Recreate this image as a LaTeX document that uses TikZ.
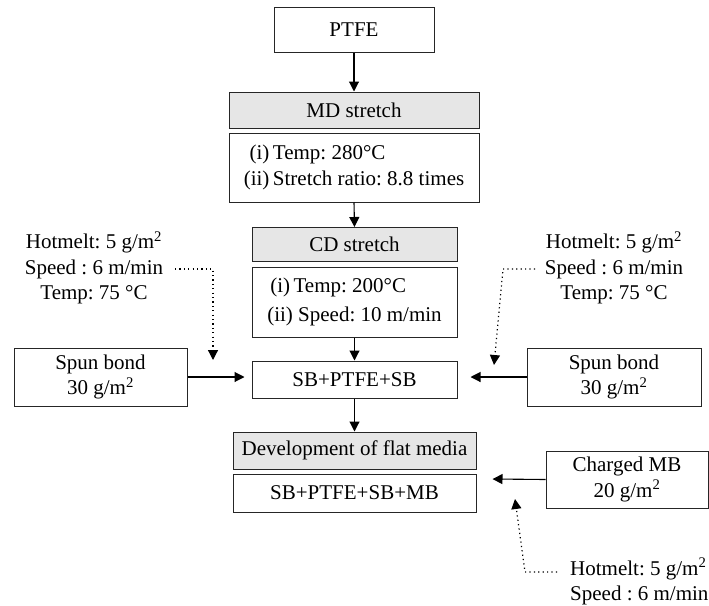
\documentclass[tikz,border=0pt]{standalone}
\usepackage{fontspec}
\setmainfont{Liberation Serif}
\frenchspacing
\usetikzlibrary{arrows.meta,calc}
\definecolor{boxgray}{RGB}{230,230,230}
\begin{document}
\begin{tikzpicture}[x=1pt,y=1pt,
  every node/.style={font=\fontsize{21}{25.5}\selectfont},
  box/.style={draw=black!85,line width=1pt,minimum width=#1,inner sep=0pt,align=center},
  graybox/.style={box=#1,fill=boxgray},
  arr/.style={line width=1.1pt,-{Triangle[length=10pt,width=10pt]}},
  dotarr/.style={line width=1.2pt,dash pattern=on 1.2pt off 3.2pt,-{Triangle[length=10pt,width=10pt]}},
  txt/.style={inner sep=0pt,align=center}]
\useasboundingbox (0,0) rectangle (709,-605);
% main column
\node[box=160pt,minimum height=45pt] (ptfe) at (354,-29.5) {PTFE};
\node[graybox=250pt,minimum height=36pt] (md) at (354,-110) {MD stretch};
\node[box=250pt,minimum height=69pt] (mdp) at (354,-167.5) {\begin{tabular}{@{}r@{\,}l@{}}(i) & Temp: 280°C\\[1pt] (ii) & Stretch ratio: 8.8 times\end{tabular}};
\node[graybox=205pt,minimum height=34pt] (cd) at (354.5,-244.5) {CD stretch};
\node[box=205pt,minimum height=70pt] (cdp) at (354.5,-302) {\begin{tabular}{@{}l@{}}\hspace{3pt}(i)\,Temp: 200°C\\[4pt] (ii) Speed: 10 m/min\end{tabular}};
\node[box=205pt,minimum height=37pt] (sb) at (354.5,-379.5) {SB+PTFE+SB};
\node[graybox=243pt,minimum height=37pt] (dev) at (354.5,-450.5) {Development of flat media};
\node[box=243pt,minimum height=38pt] (sbm) at (354.5,-493) {SB+PTFE+SB+MB};
% side boxes
\node[box=173pt,minimum height=58pt] (spl) at (100.5,-377) {Spun bond\\30 g/m\textsuperscript{2}};
\node[box=174pt,minimum height=58pt] (spr) at (614,-377) {Spun bond\\30 g/m\textsuperscript{2}};
\node[box=162pt,minimum height=57pt] (cmb) at (627,-479.5) {Charged MB\\20 g/m\textsuperscript{2}};
% texts
\node[txt] (hl) at (94,-268) {Hotmelt: 5 g/m\textsuperscript{2}\\Speed : 6 m/min\\Temp: 75 °C};
\node[txt] (hr) at (614,-268) {Hotmelt: 5 g/m\textsuperscript{2}\\Speed : 6 m/min\\Temp: 75 °C};
\node[txt,align=left,anchor=west] (hb) at (570,-581.5) {Hotmelt: 5 g/m\textsuperscript{2}\\Speed : 6 m/min};
% main arrows
\draw[arr] (ptfe.south) -- (md.north);
\draw[arr] (mdp.south) -- (cd.north);
\draw[arr] (cdp.south) -- (sb.north);
\draw[arr] (sb.south) -- (dev.north);
% side arrows
\coordinate (tl) at ($(sb.west)+(-7,2.5)$);
\coordinate (tr) at ($(sb.east)+(13,2.5)$);
\coordinate (tm) at ($(sbm.east)+(16,14)$);
\draw[arr] (spl.east) -- (tl);
\draw[arr] (spr.west) -- (tr);
\draw[arr] (cmb.west) -- (tm);
% dotted arrows
\coordinate (dl0) at (175,-269);
\coordinate (dl1) at (213,-269);
\coordinate (dl2) at (213,-360);
\draw[dotarr] (dl0) -- (dl1) -- (dl2);
\coordinate (dr0) at (535,-269);
\coordinate (dr1) at (503,-269);
\coordinate (dr2) at (494,-365);
\draw[dotarr] (dr0) -- (dr1) -- (dr2);
\coordinate (db0) at (557,-572);
\coordinate (db1) at (525,-572);
\coordinate (db2) at (515,-499);
\draw[dotarr] (db0) -- (db1) -- (db2);
\end{tikzpicture}
\end{document}
